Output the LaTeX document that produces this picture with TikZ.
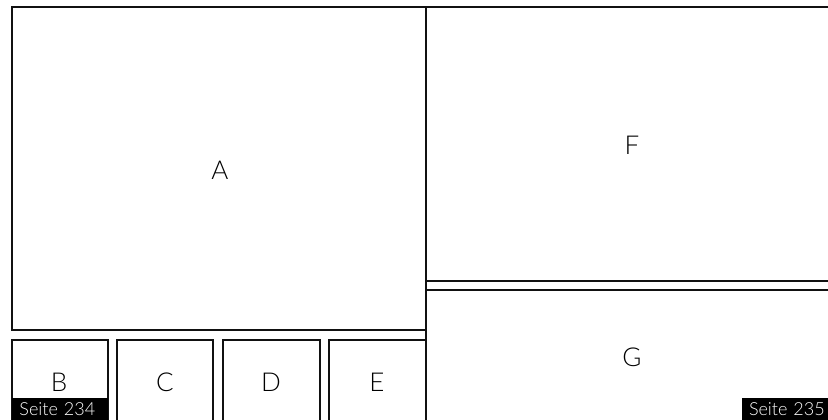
\documentclass[tikz,border=0pt]{standalone}
\usepackage{fontspec}
\setmainfont{Lato}[UprightFont={* Light}]
\usetikzlibrary{positioning}
\definecolor{tinte}{HTML}{111111}

\begin{document}
\begin{tikzpicture}[x=1pt, y=-1pt,
  panel/.style={
    draw=tinte, line width=1.6pt, fill=white,
    inner sep=0pt, outer sep=0pt, anchor=north west
  },
  marke/.style={font=\fontsize{26}{28}\selectfont},
  seite/.style={
    fill=black, text=white, inner sep=0pt, outer sep=0pt,
    anchor=north west, minimum height=23pt,
    font=\fontsize{18}{20}\selectfont
  }
]
  \useasboundingbox (0,0) rectangle (828,420);
  % linke Seite
  \node[panel, minimum width=414pt, minimum height=323pt] (a) at (12,7) {};
  \node[panel, minimum width=96pt, minimum height=82pt] (b) at (12,340) {};
  \node[panel, minimum width=96pt, minimum height=82pt] (c) at (117,340) {};
  \node[panel, minimum width=97pt, minimum height=82pt] (d) at (223,340) {};
  \node[panel, minimum width=97pt, minimum height=82pt] (e) at (329,340) {};
  % rechte Seite
  \node[panel, minimum width=410pt, minimum height=274pt] (f) at (426,7) {};
  \node[panel, minimum width=410pt, minimum height=135pt] (g) at (426,290) {};
  % Beschriftungen
  \node[marke] (la) at (220,170) {A};
  \node[marke] (lb) at (59,382) {B};
  \node[marke] (lc) at (165,382) {C};
  \node[marke] (ld) at (271,382) {D};
  \node[marke] (le) at (377,382) {E};
  \node[marke] (lf) at (632,145) {F};
  \node[marke] (lg) at (632,357) {G};
  % Seitenzahlen
  \node[seite, minimum width=96pt, text width=91pt, align=left] (s234) at (12,398) {\hspace*{5pt}Seite 234};
  \node[seite, minimum width=90pt, text width=88pt, align=left] (s235) at (742,398) {\hspace*{6pt}\mbox{Seite 235}};
\end{tikzpicture}
\end{document}
